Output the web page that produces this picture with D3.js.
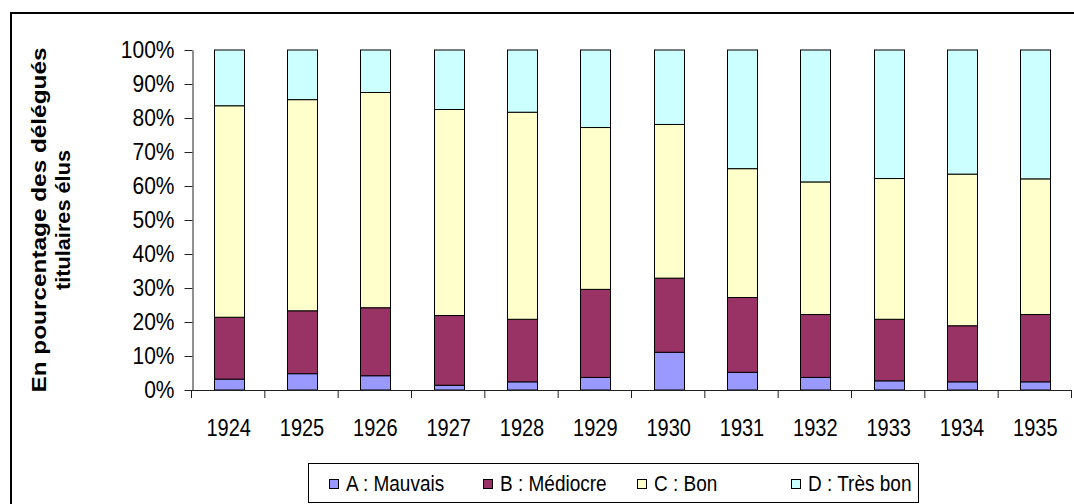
<!DOCTYPE html>
<html>
<head>
<meta charset="utf-8">
<script src="https://cdn.jsdelivr.net/npm/d3@7"></script>
<style>
  body { margin: 0; background: #fff; }
  svg { display: block; font-family: "Liberation Sans", Arial, sans-serif; }
</style>
</head>
<body>
<div class="chart"></div>
<script>
// Data (percentages of elected titular delegates)
const years = ["1924", "1925", "1926", "1927", "1928", "1929", "1930", "1931", "1932", "1933", "1934", "1935"];
const mauvais = [3.2, 4.8, 4.2, 1.4, 2.4, 3.7, 11.1, 5.2, 3.7, 2.7, 2.4, 2.4];
const mediocre = [18.2, 18.5, 20.0, 20.5, 18.4, 25.9, 21.8, 22.0, 18.5, 18.1, 16.5, 19.8];
const bon = [62.2, 62.1, 63.3, 60.6, 60.9, 47.6, 45.2, 37.9, 39.0, 41.4, 44.6, 39.9];
const tresBon = [16.4, 14.6, 12.5, 17.5, 18.3, 22.8, 21.9, 34.9, 38.8, 37.8, 36.5, 37.9];
const seriesNames = ["A : Mauvais", "B : Médiocre", "C : Bon", "D : Très bon"];
const seriesColors = ["#9999ff", "#993366", "#ffffcc", "#ccffff"];

const width = 1074;
const height = 504;
const stretch = 1.15; // text in the original looks a bit taller than wide

const svg = d3.select(".chart")
  .append("svg")
  .attr("width", width)
  .attr("height", height);

// outer chart frame
svg.append("rect")
  .attr("x", 11)
  .attr("y", 13)
  .attr("width", 1080)
  .attr("height", 520)
  .attr("fill", "none")
  .attr("stroke", "#000")
  .attr("stroke-width", 2);

// build table for the stack
const table = years.map((y, i) => ({
  year: y,
  A: mauvais[i],
  B: mediocre[i],
  C: bon[i],
  D: tresBon[i]
}));
const keys = ["A", "B", "C", "D"];
const stacked = d3.stack().keys(keys).offset(d3.stackOffsetExpand)(table);

const xCat = d3.scaleBand().domain(years).range([192, 1072]);
const y = d3.scaleLinear().domain([0, 1]).range([390, 50]);
const barW = xCat.bandwidth() * 0.41;

// bars
svg.selectAll(".serie")
  .data(stacked)
  .enter()
  .append("g")
  .attr("class", "serie")
  .attr("fill", (d, i) => seriesColors[i])
  .selectAll("rect")
  .data((d) => d)
  .enter()
  .append("rect")
  .attr("x", (d) => Math.round(xCat(d.data.year) + (xCat.bandwidth() - barW) / 2) + 0.5)
  .attr("y", (d) => y(d[1]))
  .attr("width", Math.round(barW))
  .attr("height", (d) => y(d[0]) - y(d[1]))
  .attr("stroke", "#000")
  .attr("stroke-width", 1);

// Y axis
const yAxis = svg.append("g")
  .attr("transform", "translate(192.5,0)")
  .call(d3.axisLeft(y).ticks(10).tickFormat(d3.format(".0%")).tickSize(8).tickSizeOuter(0).tickPadding(10));
yAxis.selectAll("text")
  .style("font-size", "21px")
  .attr("fill", "#000")
  .attr("transform", `scale(1,${stretch})`);
yAxis.selectAll("line, path").attr("stroke", "#222");

// X axis line with ticks between categories
svg.append("line")
  .attr("x1", 185)
  .attr("x2", 1072)
  .attr("y1", 390.5)
  .attr("y2", 390.5)
  .attr("stroke", "#222");
svg.selectAll(".xtick")
  .data(years.concat(["end"]))
  .enter()
  .append("line")
  .attr("class", "xtick")
  .attr("x1", (d) => (d === "end" ? 1072 : xCat(d)) - 0.5)
  .attr("x2", (d) => (d === "end" ? 1072 : xCat(d)) - 0.5)
  .attr("y1", 390)
  .attr("y2", 398)
  .attr("stroke", "#222");
svg.selectAll(".xlabel")
  .data(years)
  .enter()
  .append("text")
  .attr("class", "xlabel")
  .attr("transform", (d) => `translate(${xCat(d) + xCat.bandwidth() / 2},436) scale(1,${stretch})`)
  .attr("text-anchor", "middle")
  .style("font-size", "20px")
  .text((d) => d);

// Y axis title (two lines)
const titleLines = ["En pourcentage des délégués", "titulaires élus"];
const titleLengths = [345, 140];
svg.selectAll(".ytitle")
  .data(titleLines)
  .enter()
  .append("text")
  .attr("class", "ytitle")
  .attr("transform", (d, i) => `translate(${46 + i * 24},220) rotate(-90)`)
  .attr("text-anchor", "middle")
  .attr("textLength", (d, i) => titleLengths[i])
  .attr("lengthAdjust", "spacingAndGlyphs")
  .style("font-size", "20px")
  .style("font-weight", "bold")
  .text((d) => d);

// Legend
svg.append("rect")
  .attr("x", 308.5)
  .attr("y", 463.5)
  .attr("width", 610)
  .attr("height", 39)
  .attr("fill", "#fff")
  .attr("stroke", "#000")
  .attr("stroke-width", 1);

const legend = svg.selectAll(".legend-item")
  .data(seriesNames)
  .enter()
  .append("g")
  .attr("class", "legend-item")
  .attr("transform", (d, i) => `translate(${329 + i * 154},479)`);
legend.append("rect")
  .attr("x", 0.5)
  .attr("y", 0.5)
  .attr("width", 9)
  .attr("height", 9)
  .attr("fill", (d, i) => seriesColors[i])
  .attr("stroke", "#000");
legend.append("text")
  .attr("transform", `translate(17,12) scale(1,${stretch})`)
  .attr("y", 0)
  .style("font-size", "19px")
  .text((d) => d);
</script>
</body>
</html>
